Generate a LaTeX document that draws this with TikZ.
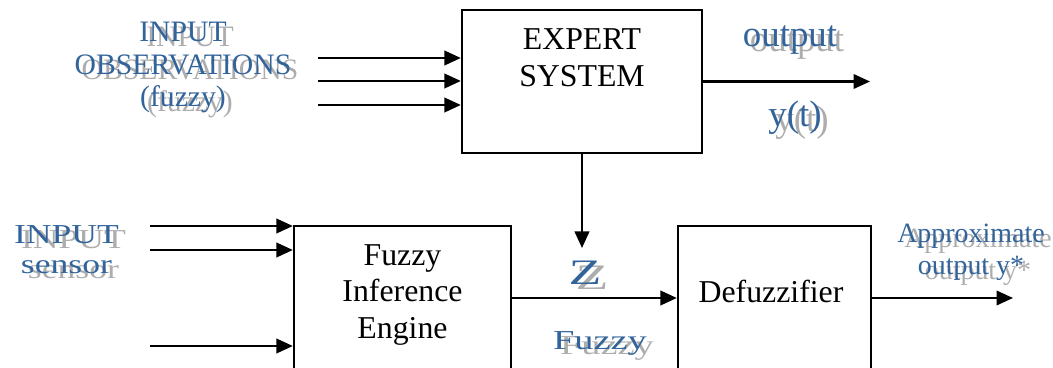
\documentclass[tikz,border=0pt]{standalone}
\usepackage{fontspec}
\setmainfont{Liberation Serif}
\usetikzlibrary{arrows.meta}
\definecolor{artblue}{RGB}{50,100,155}
\begin{document}
\begin{tikzpicture}[>={Triangle[length=0.33cm,width=0.29cm]},line width=1.3pt,
	block/.style={draw,inner sep=0pt},
	blocktxt/.style={align=center,font=\fontsize{18.1pt}{21pt}\selectfont},
	art txt/.style={text=artblue,align=center},
	shade txt/.style={text=black!32,align=center,xshift=0.14cm,yshift=-0.1cm}]
% schattierte Beschriftung: erst Schatten, dann blaue Schrift
\def\wordart#1#2#3#4{
	\node[shade txt,#2] at #3 {#4};
	\node[art txt,#2] (#1) at #3 {#4};
}
\useasboundingbox (0,0) rectangle (21.06,7.36);
\clip (0,0) rectangle (21.06,7.36);
% Bloecke
\node[block,minimum width=4.8cm,minimum height=2.86cm] (expert) at (11.64,5.73) {};
\node[block,minimum width=4.34cm,minimum height=2.88cm] (engine) at (8.05,1.40) {};
\node[block,minimum width=3.86cm,minimum height=2.88cm] (defuzz) at (15.49,1.40) {};
\node[blocktxt] (experttxt) at (11.64,6.21) {EXPERT\\SYSTEM};
\node[blocktxt] (enginetxt) at (8.05,1.46) {Fuzzy\\Inference\\Engine};
\node[blocktxt,anchor=base] (defuzztxt) at (15.42,1.30) {Defuzzifier};
% Eingaenge
\foreach \y/\n in {6.2/1,5.74/2,5.26/3} {
	\coordinate (obs\n) at (6.36,\y);
	\draw[->] (obs\n) -- (obs\n -| expert.west);
}
\foreach \y/\n in {2.84/1,2.36/2,0.44/3} {
	\coordinate (sens\n) at (3.0,\y);
	\draw[->] (sens\n) -- (sens\n -| engine.west);
}
% Ausgaenge
\coordinate (yout) at (17.4,5.73);
\coordinate (zin) at (11.64,2.4);
\coordinate (ystar) at (20.26,1.40);
\draw[->] (expert.east) -- (yout);
\draw[->] (expert.south) -- (zin);
\draw[->] (engine) -- (defuzz);
\draw[->] (defuzz) -- (ystar);
% Beschriftungen
\wordart{obs}{font=\fontsize{16.9pt}{18.7pt}\selectfont}{(3.66,6.01)}{INPUT\\OBSERVATIONS\\(fuzzy)}
\wordart{outlbl}{anchor=base,font=\fontsize{21pt}{24pt}\selectfont}{(15.8,6.42)}{output}
\wordart{ytlbl}{anchor=base,font=\fontsize{21pt}{24pt}\selectfont}{(15.9,4.82)}{y(t)}
\wordart{sensor}{xscale=1.3,transform shape,font=\fontsize{15.6pt}{17pt}\selectfont}{(1.33,2.36)}{INPUT\\sensor}
\wordart{zlbl}{anchor=base,xscale=1.5,transform shape,font=\fontsize{20.4pt}{23pt}\selectfont}{(11.7,1.66)}{Z}
\wordart{fuzzylbl}{anchor=base,xscale=1.4,transform shape,font=\fontsize{15.6pt}{17pt}\selectfont}{(12.0,0.36)}{Fuzzy}
\wordart{approx}{font=\fontsize{15.9pt}{18.1pt}\selectfont}{(19.42,2.31)}{Approximate\\output y*}
\end{tikzpicture}
\end{document}
